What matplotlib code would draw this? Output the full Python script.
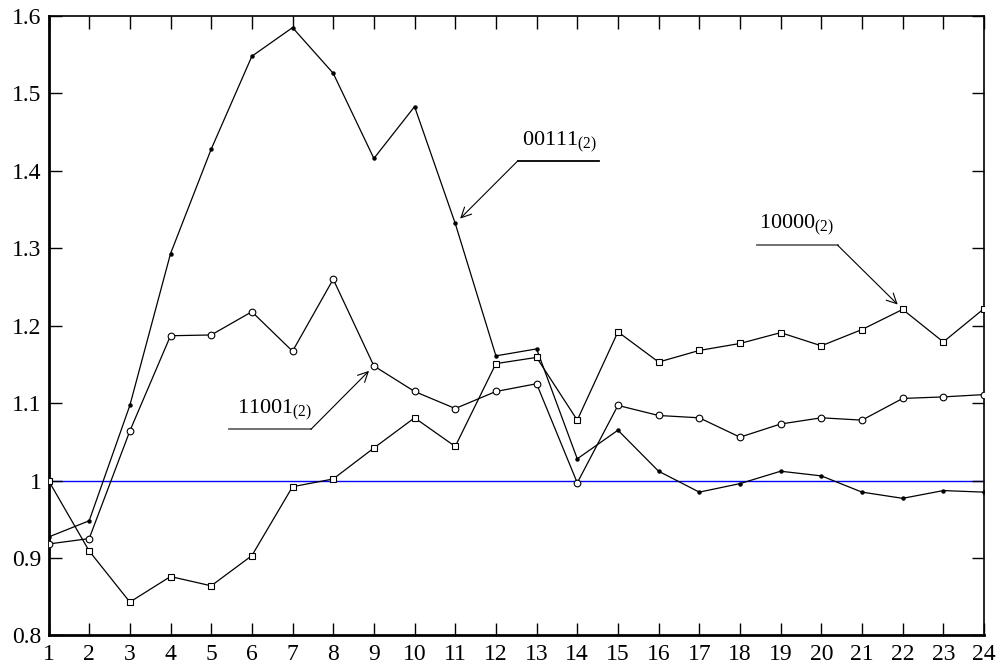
import matplotlib
matplotlib.use("Agg")
import matplotlib.pyplot as plt

plt.rcParams['font.family'] = ['Liberation Serif', 'DejaVu Serif']
plt.rcParams['mathtext.fontset'] = 'custom'
plt.rcParams['mathtext.rm'] = 'Liberation Serif'
plt.rcParams['mathtext.it'] = 'Liberation Serif'

# data
x = list(range(1, 25))

s00111 = [0.927, 0.948, 1.097, 1.293, 1.428, 1.548, 1.585, 1.526, 1.416, 1.483,
          1.332, 1.161, 1.170, 1.028, 1.065, 1.012, 0.985, 0.996, 1.012, 1.006,
          0.985, 0.977, 0.987, 0.985]

s11001 = [0.918, 0.925, 1.064, 1.187, 1.188, 1.218, 1.167, 1.260, 1.148, 1.115,
          1.093, 1.115, 1.125, 0.997, 1.097, 1.084, 1.081, 1.056, 1.073, 1.081,
          1.078, 1.106, 1.108, 1.111]

s10000 = [1.000, 0.909, 0.843, 0.876, 0.864, 0.903, 0.992, 1.002, 1.042, 1.081,
          1.044, 1.151, 1.159, 1.078, 1.192, 1.153, 1.168, 1.177, 1.191, 1.174,
          1.195, 1.221, 1.179, 1.222]

fig = plt.figure(figsize=(10, 6.66), dpi=100)
ax = fig.add_axes([0.0485, 0.046, 0.9355, 0.930])

ax.axhline(1.0, color='blue', lw=1.0, zorder=1)

ax.plot(x, s00111, color='black', lw=0.9, marker='o', markersize=2.2,
        markerfacecolor='black', markeredgecolor='black', zorder=3)
ax.plot(x, s11001, color='black', lw=0.9, marker='o', markersize=4.8,
        markerfacecolor='white', markeredgecolor='black', markeredgewidth=0.8, zorder=3)
ax.plot(x, s10000, color='black', lw=0.9, marker='s', markersize=4.5,
        markerfacecolor='white', markeredgecolor='black', markeredgewidth=0.8, zorder=3)

ax.set_xlim(1, 24)
ax.set_ylim(0.8, 1.6)
ax.set_xticks(x)
ax.set_yticks([0.8, 0.9, 1.0, 1.1, 1.2, 1.3, 1.4, 1.5, 1.6])
ax.set_yticklabels(['0.8', '0.9', '1', '1.1', '1.2', '1.3', '1.4', '1.5', '1.6'])

ax.tick_params(direction='in', length=9, width=1, labelsize=17,
               top=True, right=True, pad=5)
ax.tick_params(axis='x', pad=6)
for side in ['left', 'bottom']:
    ax.spines[side].set_linewidth(2)
for side in ['top', 'right']:
    ax.spines[side].set_linewidth(1.2)


def label(text, tx, ty, ux0, ux1, uy, px, py, ucol):
    ax.text(tx, ty, r'$\mathrm{' + text + r'}_{\mathrm{(2)}}$', fontsize=16,
            ha='left', va='baseline', zorder=4)
    ax.plot([ux0, ux1], [uy, uy], color=ucol, lw=1.3, zorder=2)
    start = ux1 if px > ux1 else ux0
    ax.annotate('', xy=(px, py), xytext=(start, uy),
                arrowprops=dict(arrowstyle='->', lw=0.8, color='black',
                                shrinkA=0, shrinkB=5, mutation_scale=18), zorder=4)


label('00111', 12.63, 1.433, 12.54, 14.53, 1.413, 11, s00111[10], 'black')
label('10000', 18.48, 1.326, 18.41, 20.40, 1.304, 22, s10000[21], '#666666')
label('11001', 5.64, 1.087, 5.44, 7.45, 1.066, 9, s11001[8], '#666666')

fig.savefig('out.png', dpi=100)
